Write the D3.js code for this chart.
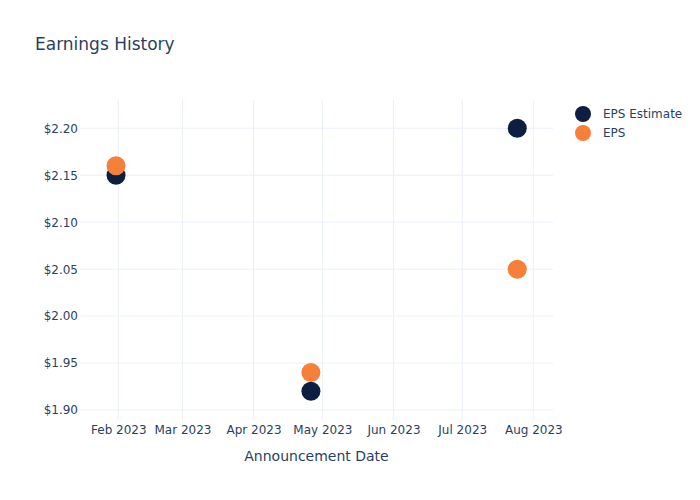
<!DOCTYPE html>
<html><head><meta charset="utf-8">
<script src="https://cdn.jsdelivr.net/npm/d3@7"></script>
<style>body{margin:0;background:#fff}svg{display:block;font-family:"DejaVu Sans",sans-serif}</style>
</head><body><svg id="c" width="700" height="500"></svg>
<script>
const dates = ["2023-01-31", "2023-04-26", "2023-07-25"];
const epsEstimate = [2.15, 1.92, 2.20];
const eps = [2.16, 1.94, 2.05];
const yTicks = [1.90, 1.95, 2.00, 2.05, 2.10, 2.15, 2.20];
const xTicks = ["2023-02-01","2023-03-01","2023-04-01","2023-05-01","2023-06-01","2023-07-01","2023-08-01"];
const seriesNames = ["EPS Estimate", "EPS"];
const colors = ["#0c1f40", "#f6803a"];

const svg = d3.select("#c");
const m = {l:80, r:147, t:100, b:80};
const W = 700, H = 500;
const parse = d3.utcParse("%Y-%m-%d");
const x = d3.scaleUtc().domain([Date.UTC(2023,0,15,7), Date.UTC(2023,7,9,14)]).range([m.l, W-m.r]);
const y = d3.scaleLinear().domain([1.8894, 2.2301]).range([H-m.b, m.t]);
const textColor = "#2a3f5f", grid = "#ebf0f8";
const font = "'DejaVu Sans',sans-serif";

const g = svg.append("g");
g.selectAll(".vg").data(xTicks).join("line")
  .attr("x1", d=>x(parse(d))).attr("x2", d=>x(parse(d)))
  .attr("y1", m.t).attr("y2", H-m.b).attr("stroke", grid).attr("stroke-width",1);
g.selectAll(".hg").data(yTicks).join("line")
  .attr("x1", m.l).attr("x2", W-m.r)
  .attr("y1", d=>y(d)).attr("y2", d=>y(d)).attr("stroke", grid).attr("stroke-width",1);

const xAxis = d3.axisBottom(x).tickValues(xTicks.map(parse)).tickFormat(d3.utcFormat("%b %Y")).tickSize(0).tickPadding(5);
const xa = svg.append("g").attr("transform", `translate(0,${H-m.b})`).call(xAxis);
const yAxis = d3.axisLeft(y).tickValues(yTicks).tickFormat(d=>"$"+d3.format(".2f")(d)).tickSize(0).tickPadding(2);
const ya = svg.append("g").attr("transform", `translate(${m.l},0)`).call(yAxis);
[xa, ya].forEach(a=>{
  a.select(".domain").remove();
  a.selectAll("text").attr("fill", textColor).style("font-size","12px").style("font-family", font);
});

const series = [epsEstimate, eps];
series.forEach((vals, i) => {
  svg.append("g").selectAll("circle").data(vals.map((v,j)=>({d:parse(dates[j]), v}))).join("circle")
    .attr("cx", d=>x(d.d)).attr("cy", d=>y(d.v)).attr("r", 9.5).attr("fill", colors[i]);
});

svg.append("text").attr("x", 35).attr("y", 50).text("Earnings History")
  .attr("fill", textColor).style("font-size","17px");
svg.append("text").attr("x", (m.l + W - m.r)/2).attr("y", 461).attr("text-anchor","middle")
  .text("Announcement Date").attr("fill", textColor).style("font-size","14px");

const lg = svg.append("g");
seriesNames.forEach((n,i)=>{
  const yy = 114 + i*19;
  lg.append("circle").attr("cx", 583).attr("cy", yy).attr("r", 8).attr("fill", colors[i]);
  lg.append("text").attr("x", 603).attr("y", yy).attr("dy","0.35em").text(n)
    .attr("fill", textColor).style("font-size","12px");
});
</script></body></html>
